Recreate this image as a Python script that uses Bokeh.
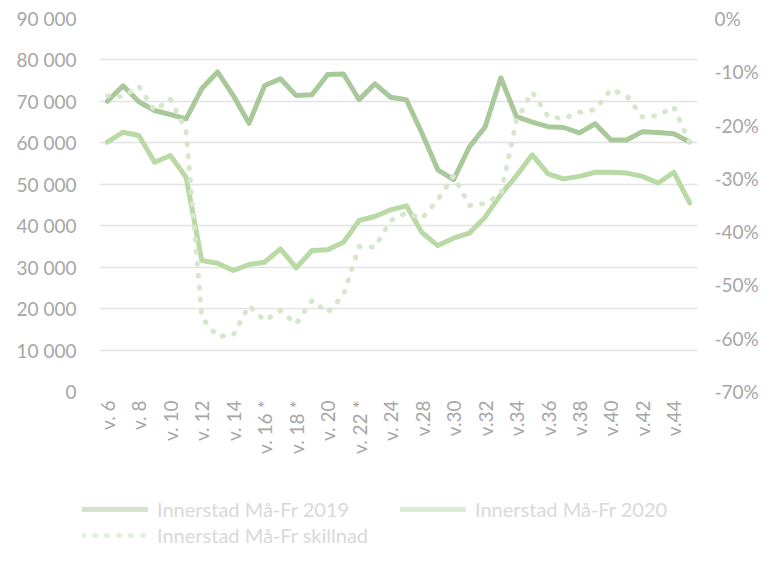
import math
from bokeh.plotting import figure
from bokeh.layouts import column, row
from bokeh.models import Range1d, LinearAxis, FixedTicker, Legend, LegendItem
from bokeh.embed import file_html
from bokeh.resources import INLINE

weeks = ["v. 6", "v. 7", "v. 8", "v. 9", "v. 10", "v. 11", "v. 12", "v. 13", "v. 14", "v. 15",
         "v. 16 *", "v. 17 *", "v. 18 *", "v. 19", "v. 20", "v. 21", "v. 22 *", "v. 23", "v. 24", "v. 26",
         "v.28", "v.29", "v.30", "v.31", "v.32", "v.33", "v.34", "v.35", "v.36", "v.37",
         "v.38", "v.39", "v.40", "v.41", "v.42", "v.43", "v.44", "v.45"]

innerstad_2019 = [70050, 73760, 69900, 67800, 66840, 65800, 73100, 77100, 71400, 64700,
                  73840, 75450, 71400, 71600, 76500, 76600, 70400, 74250, 71000, 70400,
                  62250, 53500, 51100, 59000, 63800, 75700, 66300, 65000, 63900, 63700,
                  62400, 64600, 60700, 60700, 62700, 62500, 62200, 60200]

innerstad_2020 = [60170, 62570, 61770, 55330, 56950, 51700, 31600, 30960, 29200, 30650,
                  31200, 34430, 29850, 34020, 34190, 36030, 41260, 42230, 43840, 44800,
                  38300, 35200, 37000, 38200, 42060, 47500, 52100, 57100, 52500, 51300,
                  51900, 52900, 52900, 52700, 51900, 50300, 52900, 45500]

skillnad_pct = [-14.5, -14.7, -12.7, -17.3, -15.1, -21.0, -56.1, -59.7, -59.4, -53.9,
                -56.7, -54.8, -57.3, -52.9, -55.2, -51.9, -42.8, -42.9, -37.9, -36.5,
                -37.5, -34.0, -29.5, -35.1, -34.7, -33.0, -19.1, -13.8, -18.4, -18.8,
                -17.6, -17.1, -13.3, -14.5, -18.5, -18.2, -16.6, -23.4]

left_ticks = [0, 10000, 20000, 30000, 40000, 50000, 60000, 70000, 80000, 90000]
right_ticks = [-70, -60, -50, -40, -30, -20, -10, 0]

series_names = ["Innerstad Må-Fr 2019", "Innerstad Må-Fr 2020", "Innerstad Må-Fr skillnad"]

FONT = "Lato"
AXIS_SIZE = "19px"
AXIS_TEXT = "#a6a6a6"
C2019 = "#a9c99b"
C2020 = "#b9d9a5"
CDIFF = "#d5e8cc"

xs = list(range(len(weeks)))

W = 761
p = figure(width=W, height=470, output_backend="svg", toolbar_location=None,
           x_range=Range1d(-0.5, len(weeks) - 0.5), y_range=Range1d(0, 90000),
           min_border_left=99, min_border_right=61, min_border_top=18, min_border_bottom=79)
p.outline_line_color = None
p.background_fill_color = "white"
p.border_fill_color = "white"
p.extra_y_ranges = {"pct": Range1d(-70, 0)}

def style_axis(ax, standoff):
    ax.axis_line_color = None
    ax.major_tick_line_color = None
    ax.minor_tick_line_color = None
    ax.major_tick_out = 0
    ax.major_tick_in = 0
    ax.minor_tick_out = 0
    ax.minor_tick_in = 0
    ax.major_label_standoff = standoff
    ax.major_label_text_font = FONT
    ax.major_label_text_font_size = AXIS_SIZE
    ax.major_label_text_color = AXIS_TEXT

# left axis
ya = p.yaxis[0]
ya.ticker = FixedTicker(ticks=left_ticks)
ya.major_label_overrides = {t: f"{t:,}".replace(",", " ") for t in left_ticks}
style_axis(ya, 23)

# right axis
ra = LinearAxis(y_range_name="pct", ticker=FixedTicker(ticks=right_ticks))
ra.major_label_overrides = {t: f"{t}%" for t in right_ticks}
style_axis(ra, 17)
p.add_layout(ra, "right")

# x axis
xa = p.xaxis[0]
xt = list(range(0, len(weeks), 2))
xa.ticker = FixedTicker(ticks=xt)
xa.major_label_overrides = {i: weeks[i] for i in xt}
xa.major_label_orientation = math.pi / 2
style_axis(xa, 9)

p.xgrid.grid_line_color = None
p.ygrid.grid_line_color = "#e3e3e3"
p.ygrid.grid_line_width = 1.3

p.line(xs, innerstad_2019, line_color=C2019, line_width=5, line_join="round", line_cap="round")
p.line(xs, innerstad_2020, line_color=C2020, line_width=5, line_join="round", line_cap="round")
p.line(xs, skillnad_pct, y_range_name="pct", line_color=CDIFF, line_width=5,
       line_dash="1 11", line_cap="round", line_join="round")

# legend strip (separate figure below the chart)
lg = figure(width=W, height=77, output_backend="svg", toolbar_location=None,
            x_range=Range1d(0, 1), y_range=Range1d(0, 1),
            x_axis_location=None, y_axis_location=None,
            min_border_left=0, min_border_right=0, min_border_top=0, min_border_bottom=0)
lg.outline_line_color = None
lg.xgrid.grid_line_color = None
lg.ygrid.grid_line_color = None
lg.background_fill_color = "white"
lg.border_fill_color = "white"

hid_x = [-5, -4]
hid_y = [-5, -5]
l1 = lg.line(hid_x, hid_y, line_color="#d5e3cc", line_width=5, line_cap="round")
l2 = lg.line(hid_x, hid_y, line_color="#dcebd3", line_width=5, line_cap="round")
l3 = lg.line(hid_x, hid_y, line_color="#e3efdd", line_width=5, line_dash="1 11", line_cap="round")

def mk_legend(name, r, loc):
    leg = Legend(items=[LegendItem(label=name, renderers=[r])], location=loc,
                 label_text_font=FONT, label_text_font_size="20px", label_text_color="#d9d9d9",
                 glyph_width=66, glyph_height=20, label_height=20, label_standoff=9,
                 padding=0, margin=0, border_line_color=None, background_fill_alpha=0)
    lg.add_layout(leg)

mk_legend(series_names[0], l1, (82, 26))
mk_legend(series_names[1], l2, (400, 26))
mk_legend(series_names[2], l3, (82, 0))

layout = column(p, row(lg), spacing=0)
open("out.html", "w").write(file_html(layout, INLINE))
